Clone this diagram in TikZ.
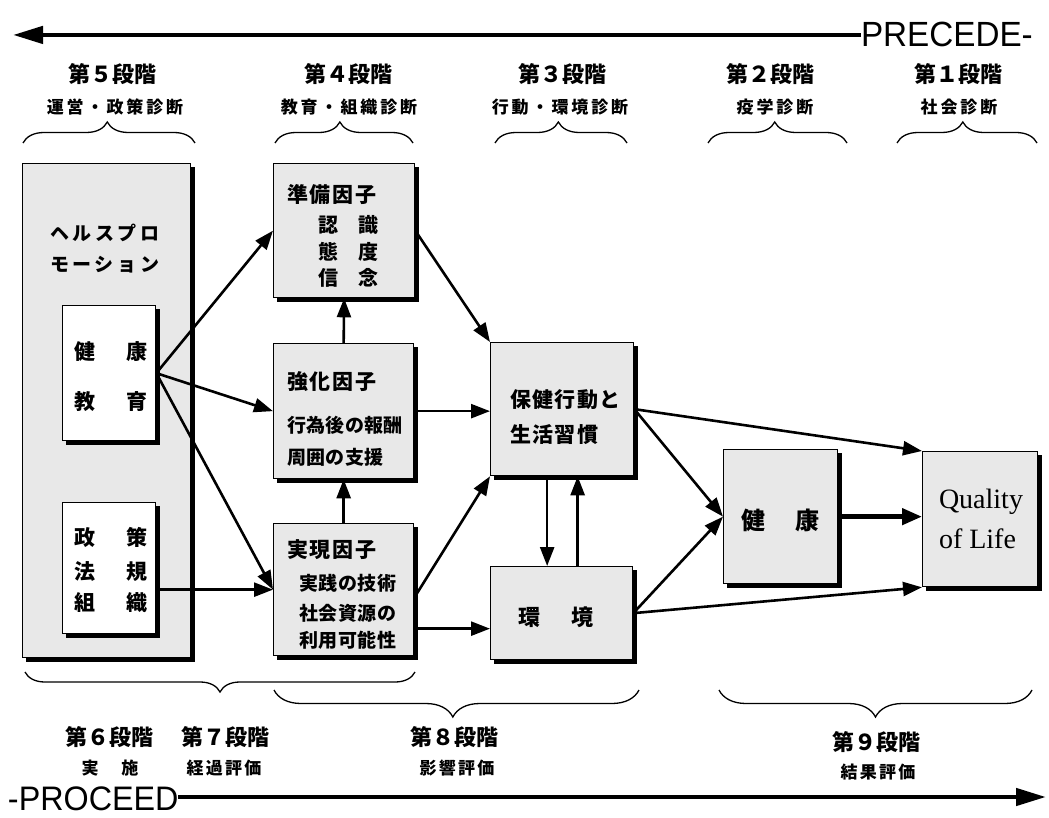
\documentclass[tikz,border=0pt]{standalone}
\usepackage{fontspec}
\setmainfont{Liberation Serif}
\newfontfamily\jp{Noto Sans CJK JP}
\newfontfamily\hv{Liberation Sans}
\usetikzlibrary{arrows.meta,shadows,decorations.pathreplacing}
\newcommand\jpt[2]{\jp\bfseries\fontsize{#1}{#1}\selectfont\addfontfeature{LetterSpace=#2}}
\tikzset{
  box/.style={draw=black, line width=1.3pt, fill=black!9, inner sep=0pt, anchor=north west,
    general shadow={fill=black, draw=black, shadow xshift=4pt, shadow yshift=-4pt}},
  wbox/.style={box, fill=white},
  arr/.style={line width=2.6pt, -{Triangle[length=19pt,width=14pt]}},
  thickarr/.style={line width=4.5pt, -{Triangle[length=20pt,width=16pt]}},
  bigarr/.style={line width=4.5pt, -{Triangle[length=30pt,width=17pt]}},
  brc/.style={line width=1.3pt, decorate},
  txt/.style={inner sep=0pt, outer sep=0pt},
}
\begin{document}
\begin{tikzpicture}[x=1pt,y=-1pt]
\useasboundingbox (0,0) rectangle (1049,818);

% ---------- top PRECEDE arrow ----------
\node[txt, anchor=base west, xscale=0.95] (prec) at (861,47) {\hv\fontsize{35pt}{35pt}\selectfont PRECEDE-};
\coordinate (tl) at (13,0);
\draw[bigarr] (prec.west) -- (prec.west -| tl);

% ---------- header texts ----------
\node[txt] (h5a) at (112,74) {\jpt{22pt}{0}第５段階};
\node[txt] (h5b) at (115,107) {\jpt{17pt}{17}運営・政策診断};
\node[txt] (h4a) at (348,74) {\jpt{22pt}{0}第４段階};
\node[txt] (h4b) at (349,107) {\jpt{17pt}{17}教育・組織診断};
\node[txt] (h3a) at (562,74) {\jpt{22pt}{0}第３段階};
\node[txt] (h3b) at (560,107) {\jpt{17pt}{17}行動・環境診断};
\node[txt] (h2a) at (770,74) {\jpt{22pt}{0}第２段階};
\node[txt] (h2b) at (775,107) {\jpt{17pt}{17}疫学診断};
\node[txt] (h1a) at (958,74) {\jpt{22pt}{0}第１段階};
\node[txt] (h1b) at (959,107) {\jpt{17pt}{17}社会診断};

% header braces
\draw[brc, decoration={brace, amplitude=21pt, aspect=0.49}] (23,143) -- (195,143);
\draw[brc, decoration={brace, amplitude=21pt, aspect=0.47}] (275,143) -- (413,143);
\draw[brc, decoration={brace, amplitude=21pt, aspect=0.48}] (495,143) -- (627,143);
\draw[brc, decoration={brace, amplitude=21pt, aspect=0.48}] (708,143) -- (847,143);
\draw[brc, decoration={brace, amplitude=21pt, aspect=0.47}] (897,143) -- (1037,143);

% ---------- boxes ----------
\node[box, minimum width=168pt, minimum height=494pt] (hp) at (22,163) {};
\node[wbox, minimum width=93pt, minimum height=135pt] (ke) at (62,305) {};
\node[wbox, minimum width=93pt, minimum height=131pt] (ss) at (62,502) {};
\node[box, minimum width=141pt, minimum height=134pt] (jb) at (273,163) {};
\node[box, minimum width=140pt, minimum height=135pt] (kk) at (273,343) {};
\node[box, minimum width=140pt, minimum height=132pt] (jg) at (273,523) {};
\node[box, minimum width=143pt, minimum height=133pt] (hk) at (490,342) {};
\node[box, minimum width=142pt, minimum height=93pt] (kj) at (490,566) {};
\node[box, minimum width=114pt, minimum height=134pt] (kh) at (723,449) {};
\node[box, minimum width=115pt, minimum height=135pt] (qol) at (922,451) {};

% ---------- box texts ----------
\node[txt, anchor=west] (hpa) at (50,233) {\jpt{19pt}{19}ヘルスプロ};
\node[txt, anchor=west] (hpb) at (50,265) {\jpt{19pt}{19}モーション};
\node[txt] (kea) at (111,352) {\jpt{21pt}{0}健\hspace{31pt}康};
\node[txt] (keb) at (111,402) {\jpt{21pt}{0}教\hspace{31pt}育};
\node[txt] (ssa) at (111,537) {\jpt{21pt}{0}政\hspace{31pt}策};
\node[txt] (ssb) at (111,572) {\jpt{21pt}{0}法\hspace{31pt}規};
\node[txt] (ssc) at (111,603) {\jpt{21pt}{0}組\hspace{31pt}織};

\node[txt, anchor=west] (jba) at (287,195) {\jpt{21pt}{8}準備因子};
\node[txt] (jbb) at (348,225) {\jpt{20pt}{0}認\hspace{20pt}識};
\node[txt] (jbc) at (348,252) {\jpt{20pt}{0}態\hspace{20pt}度};
\node[txt] (jbd) at (348,278) {\jpt{20pt}{0}信\hspace{20pt}念};

\node[txt, anchor=west] (kka) at (287,382) {\jpt{21pt}{8}強化因子};
\node[txt, anchor=west] (kkb) at (287,425) {\jpt{19pt}{2}行為後の報酬};
\node[txt, anchor=west] (kkc) at (287,457) {\jpt{19pt}{2}周囲の支援};

\node[txt, anchor=west] (jga) at (287,550) {\jpt{21pt}{8}実現因子};
\node[txt, anchor=west] (jgb) at (299,583) {\jpt{19pt}{3}実践の技術};
\node[txt, anchor=west] (jgc) at (299,613) {\jpt{19pt}{3}社会資源の};
\node[txt, anchor=west] (jgd) at (299,640) {\jpt{19pt}{3}利用可能性};

\node[txt, anchor=west] (hka) at (510,400) {\jpt{21pt}{7}保健行動と};
\node[txt, anchor=west] (hkb) at (510,435) {\jpt{21pt}{7}生活習慣};
\node[txt] (kja) at (556,617) {\jpt{22pt}{0}環\hspace{31pt}境};
\node[txt] (kha) at (780,520) {\jpt{24pt}{0}健\hspace{30pt}康};
\node[txt, anchor=west] (qa) at (939,502) {\fontsize{28pt}{28pt}\selectfont Quality};
\node[txt, anchor=west] (qb) at (939,539) {\fontsize{28pt}{28pt}\selectfont of Life};

% ---------- connectors ----------
\draw[arr] (ke.east) -- (jb.west);
\draw[arr] (ke.east) -- (kk.west);
\draw[arr] (ke.east) -- (jg.west);
\draw[arr] (ss.east |- jg.west) -- (jg.west);
\draw[arr] (kk.north) -- (jb.south);
\draw[arr] (jg.north) -- (kk.south);
\draw[arr] (jb.east) -- (hk.north west);
\draw[arr] (kk.east) -- (kk.east -| hk.west);
\draw[arr] ([yshift=-8pt]jg.east) -- (hk.south west);
\draw[arr] ([yshift=-39pt]jg.east) -- ([yshift=-39pt]jg.east -| kj.west);
\draw[arr] ([xshift=-15pt]hk.south) -- ([xshift=-15pt]hk.south |- kj.north);
\draw[arr] ([xshift=16pt]kj.north) -- ([xshift=16pt]kj.north |- hk.south);
\draw[arr] (hk.east) -- (kh.west);
\draw[arr] (hk.east) -- (qol.north west);
\draw[arr] (kj.east) -- (kh.west);
\draw[arr] (kj.east) -- (qol.south west);
\draw[thickarr] (kh.east) -- (kh.east -| qol.west);

% ---------- bottom braces ----------
\draw[brc, decoration={brace, amplitude=20pt, aspect=0.5}] (415,672) -- (25,672);
\draw[brc, decoration={brace, amplitude=27pt, aspect=0.51}] (639,690) -- (274,690);
\draw[brc, decoration={brace, amplitude=27pt, aspect=0.5}] (1032,690) -- (719,690);

% ---------- bottom texts ----------
\node[txt] (b6a) at (109,737) {\jpt{22pt}{0}第６段階};
\node[txt] (b7a) at (225,737) {\jpt{22pt}{0}第７段階};
\node[txt] (b6b) at (110,768) {\jpt{17pt}{0}実\hspace{23pt}施};
\node[txt] (b7b) at (224,768) {\jpt{17pt}{13}経過評価};
\node[txt] (b8a) at (454,737) {\jpt{22pt}{0}第８段階};
\node[txt] (b8b) at (457,768) {\jpt{17pt}{13}影響評価};
\node[txt] (b9a) at (876,742) {\jpt{22pt}{0}第９段階};
\node[txt] (b9b) at (878,772) {\jpt{17pt}{13}結果評価};

% ---------- bottom PROCEED arrow ----------
\node[txt, anchor=base west, xscale=0.95] (proc) at (8,810) {\hv\fontsize{34pt}{34pt}\selectfont -PROCEED};
\coordinate (tr) at (1046,797);
\draw[bigarr] (proc.east |- tr) -- (tr);
\end{tikzpicture}
\end{document}
